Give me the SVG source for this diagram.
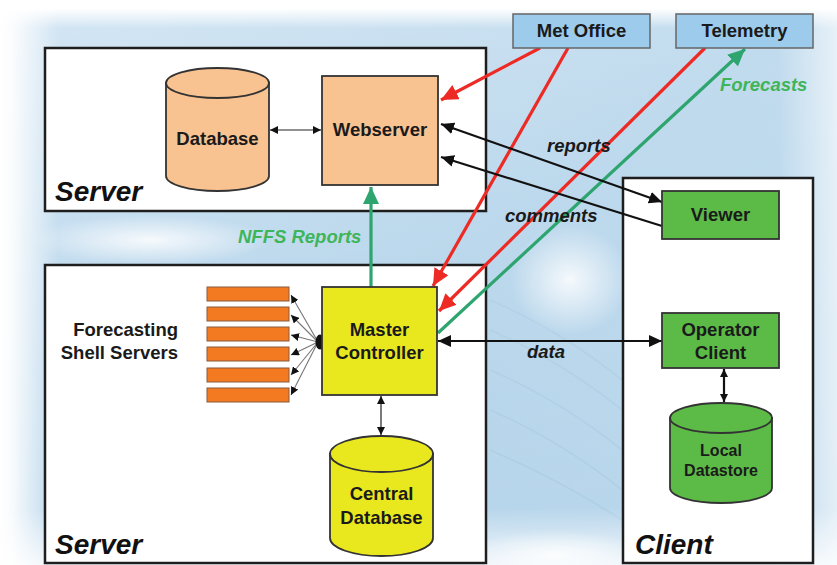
<svg xmlns="http://www.w3.org/2000/svg" width="837" height="565" viewBox="0 0 837 565">
<defs>
<linearGradient id="bgL" x1="0" y1="0" x2="1" y2="0">
<stop offset="0" stop-color="#ffffff" stop-opacity="1"/>
<stop offset="0.015" stop-color="#ffffff" stop-opacity="0.9"/>
<stop offset="0.07" stop-color="#ffffff" stop-opacity="0"/>
<stop offset="0.93" stop-color="#ffffff" stop-opacity="0"/>
<stop offset="1" stop-color="#ffffff" stop-opacity="0.6"/>
</linearGradient>
<linearGradient id="bgT" x1="0" y1="0" x2="0" y2="1">
<stop offset="0" stop-color="#ffffff" stop-opacity="1"/>
<stop offset="0.015" stop-color="#ffffff" stop-opacity="1"/>
<stop offset="0.05" stop-color="#ffffff" stop-opacity="0.2"/>
<stop offset="0.9" stop-color="#ffffff" stop-opacity="0"/>
<stop offset="1" stop-color="#ffffff" stop-opacity="0.8"/>
</linearGradient>
<radialGradient id="cloud" cx="0.5" cy="0.5" r="0.5">
<stop offset="0" stop-color="#ffffff" stop-opacity="0.85"/>
<stop offset="1" stop-color="#ffffff" stop-opacity="0"/>
</radialGradient>
<linearGradient id="base" x1="0" y1="0" x2="1" y2="1">
<stop offset="0" stop-color="#c9e0f1"/>
<stop offset="0.5" stop-color="#b3d3ea"/>
<stop offset="1" stop-color="#bcd8ec"/>
</linearGradient>
<marker id="aRed" markerUnits="userSpaceOnUse" markerWidth="18" markerHeight="16" refX="17" refY="8" orient="auto">
<path d="M0,0 L17,8 L0,16 Z" fill="#ee2a24"/>
</marker>
<marker id="aGreen" markerUnits="userSpaceOnUse" markerWidth="18" markerHeight="16" refX="17" refY="8" orient="auto">
<path d="M0,0 L17,8 L0,16 Z" fill="#2ea56f"/>
</marker>
<marker id="aBlk" markerUnits="userSpaceOnUse" markerWidth="14" markerHeight="12" refX="13" refY="6" orient="auto-start-reverse">
<path d="M0,0 L13,6 L0,12 Z" fill="#111"/>
</marker>
<marker id="aSm" markerUnits="userSpaceOnUse" markerWidth="9" markerHeight="8" refX="8" refY="4" orient="auto-start-reverse">
<path d="M0,0 L8,4 L0,8 Z" fill="#111"/>
</marker>
</defs>
<style>
.cont{fill:#ffffff;stroke:#1e1e1e;stroke-width:2.5}
.lbl{font-family:"Liberation Sans",Arial,sans-serif;font-weight:bold;font-size:18.5px;fill:#1a1a1a;text-anchor:middle}
.sm{font-size:16px}
.big{font-family:"Liberation Sans",Arial,sans-serif;font-weight:bold;font-style:italic;font-size:28px;fill:#111}
.it{font-family:"Liberation Sans",Arial,sans-serif;font-weight:bold;font-style:italic;font-size:18.5px;fill:#1a1a1a}
.git{fill:#3fb55a}
.peach{fill:#f9c291;stroke:#333;stroke-width:1.8}
.yel{fill:#e9e81f;stroke:#333;stroke-width:1.8}
.grn{fill:#5cba47;stroke:#333;stroke-width:1.8}
.blu{fill:#9dcbec;stroke:#666;stroke-width:1.5}
.bar{fill:#f47a22;stroke:#8a5a3a;stroke-width:1}
.red{stroke:#ee2a24;stroke-width:3.2;fill:none}
.gl{stroke:#2ea56f;stroke-width:3.2;fill:none}
.bk{stroke:#111;stroke-width:2.2;fill:none}
.thin{stroke:#222;stroke-width:1.2;fill:none}
.fan{stroke:#777;stroke-width:1.1;fill:none}
</style>
<!-- background -->
<rect x="0" y="0" width="837" height="565" fill="url(#base)"/>
<g stroke="#a4c7e1" stroke-width="1.5" fill="none" opacity="0.45">
<path d="M490,300 Q560,330 622,380"/>
<path d="M490,330 Q560,360 622,410"/>
<path d="M490,370 Q560,400 622,450"/>
<path d="M490,410 Q560,440 622,490"/>
<path d="M490,450 Q560,480 622,520"/>
</g>
<ellipse cx="570" cy="280" rx="60" ry="55" fill="url(#cloud)"/>
<ellipse cx="150" cy="240" rx="120" ry="25" fill="url(#cloud)"/>
<ellipse cx="555" cy="555" rx="90" ry="25" fill="url(#cloud)"/>
<rect x="0" y="0" width="837" height="565" fill="url(#bgL)"/>
<rect x="0" y="0" width="837" height="565" fill="url(#bgT)"/>

<!-- containers -->
<g id="server-top"><rect class="cont" x="45" y="48" width="441" height="163"/><text class="big" x="55" y="201">Server</text></g>
<g id="server-bottom"><rect class="cont" x="45" y="265" width="441" height="298"/><text class="big" x="55" y="554">Server</text></g>
<g id="client"><rect class="cont" x="623" y="178" width="190" height="385"/><text class="big" x="635" y="554">Client</text></g>

<!-- connectors -->
<g id="connectors">
<line class="thin" x1="270" y1="130" x2="321" y2="130" marker-start="url(#aSm)" marker-end="url(#aSm)"/>
<line class="gl" x1="371" y1="287" x2="371" y2="187" marker-end="url(#aGreen)"/>
<line class="red" x1="540" y1="48" x2="441" y2="100" marker-end="url(#aRed)"/>
<line class="red" x1="568" y1="48" x2="433" y2="286" marker-end="url(#aRed)"/>
<line class="red" x1="705" y1="48" x2="439" y2="311" marker-end="url(#aRed)"/>
<line class="gl" x1="438" y1="333" x2="745" y2="49" marker-end="url(#aGreen)"/>
<line class="bk" x1="441" y1="124" x2="662" y2="202" marker-start="url(#aBlk)" marker-end="url(#aBlk)"/>
<line class="bk" x1="662" y1="226" x2="441" y2="157" marker-end="url(#aBlk)"/>
<line class="bk" x1="438" y1="341" x2="662" y2="341" marker-start="url(#aBlk)" marker-end="url(#aBlk)"/>
<line class="thin" x1="381" y1="396" x2="381" y2="435" marker-start="url(#aSm)" marker-end="url(#aSm)"/>
<line class="bk" x1="724" y1="369" x2="724" y2="402" marker-start="url(#aSm)" marker-end="url(#aSm)"/>
<g class="fan">
<line x1="318" y1="342" x2="291" y2="295" marker-end="url(#aSm)"/>
<line x1="318" y1="342" x2="291" y2="315" marker-end="url(#aSm)"/>
<line x1="318" y1="342" x2="291" y2="335" marker-end="url(#aSm)"/>
<line x1="318" y1="342" x2="291" y2="355" marker-end="url(#aSm)"/>
<line x1="318" y1="342" x2="291" y2="375" marker-end="url(#aSm)"/>
<line x1="318" y1="342" x2="291" y2="395" marker-end="url(#aSm)"/>
</g>
<ellipse cx="320" cy="342" rx="4.5" ry="7.5" fill="#111"/>
</g>

<!-- connector labels -->
<g id="labels">
<text class="it git" x="238" y="243">NFFS Reports</text>
<text class="it git" x="720" y="91">Forecasts</text>
<text class="it" x="547" y="152">reports</text>
<text class="it" x="505" y="222">comments</text>
<text class="it" x="527" y="358">data</text>
</g>

<!-- nodes -->
<g id="met-office"><rect class="blu" x="513" y="14" width="137" height="34"/><text class="lbl" x="581.5" y="37">Met Office</text></g>
<g id="telemetry"><rect class="blu" x="676" y="14" width="137" height="34"/><text class="lbl" x="744.5" y="37">Telemetry</text></g>
<g id="database">
<path class="peach" d="M166,83 L166,176 A51.5,15 0 0 0 269,176 L269,83 Z"/>
<ellipse class="peach" cx="217.5" cy="83" rx="51.5" ry="15"/>
<text class="lbl" x="217.5" y="145">Database</text>
</g>
<g id="webserver"><rect class="peach" x="322" y="76" width="116" height="109"/><text class="lbl" x="380" y="136">Webserver</text></g>
<g id="viewer"><rect class="grn" x="662" y="191" width="117" height="48"/><text class="lbl" x="720.5" y="221">Viewer</text></g>
<g id="fss">
<rect class="bar" x="207" y="287" width="82" height="14"/>
<rect class="bar" x="207" y="307" width="82" height="14"/>
<rect class="bar" x="207" y="327" width="82" height="14"/>
<rect class="bar" x="207" y="347" width="82" height="14"/>
<rect class="bar" x="207" y="368" width="82" height="14"/>
<rect class="bar" x="207" y="388" width="82" height="14"/>
<text class="lbl" style="text-anchor:end" x="178" y="336">Forecasting</text>
<text class="lbl" style="text-anchor:end" x="178" y="359">Shell Servers</text>
</g>
<g id="master-controller"><rect class="yel" x="322" y="287" width="115" height="108"/><text class="lbl" x="379.5" y="336">Master</text><text class="lbl" x="379.5" y="359">Controller</text></g>
<g id="central-database">
<path class="yel" d="M330,454 L330,538 A51.5,18 0 0 0 433,538 L433,454 Z"/>
<ellipse class="yel" cx="381.5" cy="454" rx="51.5" ry="18"/>
<text class="lbl" x="381.5" y="500">Central</text>
<text class="lbl" x="381.5" y="524">Database</text>
</g>
<g id="operator-client"><rect class="grn" x="662" y="313" width="117" height="55"/><text class="lbl" x="720.5" y="336">Operator</text><text class="lbl" x="720.5" y="359">Client</text></g>
<g id="local-datastore">
<path class="grn" d="M670,418 L670,488 A51,15 0 0 0 772,488 L772,418 Z"/>
<ellipse class="grn" cx="721" cy="418" rx="51" ry="15"/>
<text class="lbl sm" x="721" y="456">Local</text>
<text class="lbl sm" x="721" y="476">Datastore</text>
</g>
</svg>
